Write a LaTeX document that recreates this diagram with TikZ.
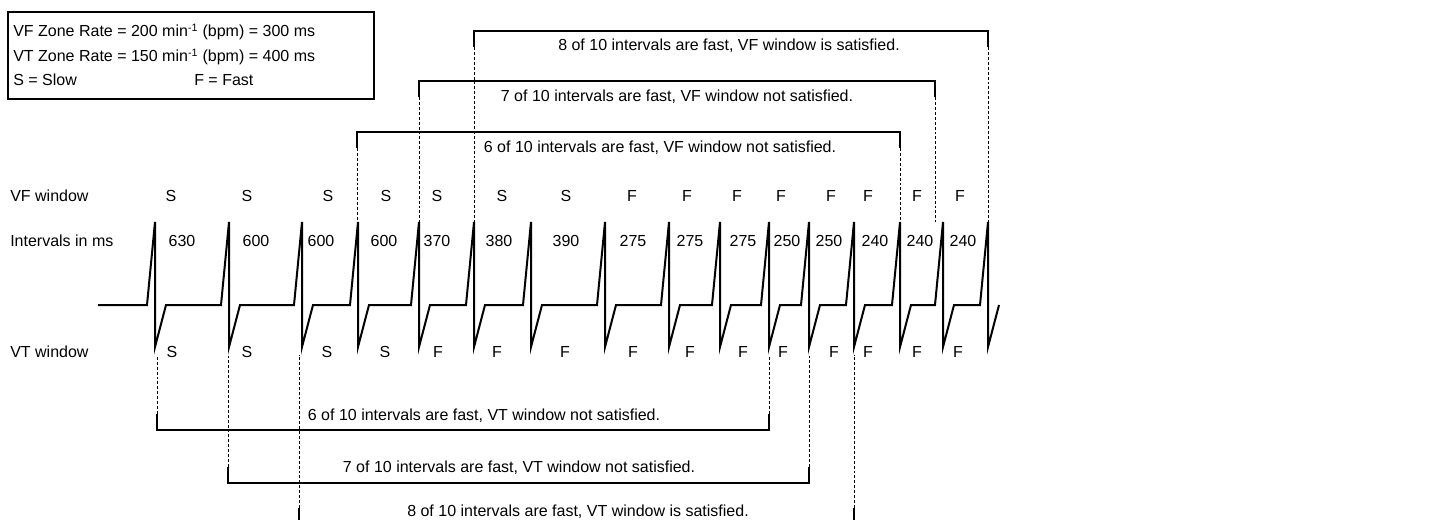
\documentclass[tikz,border=0pt]{standalone}
\usepackage{fontspec}
\setmainfont{Liberation Sans}
\usetikzlibrary{calc}

\begin{document}
\begin{tikzpicture}[
  x=0.75pt, y=-0.75pt,
  every node/.style={font=\fontsize{12}{14}\selectfont, inner sep=0pt},
  ecg/.style={line width=1.5pt, line join=miter},
  brace/.style={line width=0.9pt},
  guide/.style={line width=0.7pt, dash pattern=on 2.2pt off 1.5pt}
]
  \path[use as bounding box] (0,0) rectangle (1445,520);
  \clip (0,0) rectangle (1445,520);

  % legend
  \draw[line width=1.1pt] (8,12) rectangle (374,99);
  \node[anchor=base west] (rateVF) at (13,37) {VF Zone Rate = 200 min\textsuperscript{-1} (bpm) = 300 ms};
  \node[anchor=base west] (rateVT) at (13,62) {VT Zone Rate = 150 min\textsuperscript{-1} (bpm) = 400 ms};
  \node[anchor=base west] (slow) at (13,86) {S = Slow};
  \node[anchor=base west] (fast) at (194,86) {F = Fast};

  % row titles
  \node[anchor=base west] (vfrow) at (10,202) {VF window};
  \node[anchor=base west] (ivrow) at (10,246.5) {Intervals in ms};
  \node[anchor=base west] (vtrow) at (10,357) {VT window};

  % beats
  \foreach \p [count=\i] in {155,229,302,358,419,474,531,605,669,720,769,809,854,900,943,988} {
    \coordinate (top\i) at (\p,222);
    \coordinate (bot\i) at (\p,347);
  }
  \draw[ecg] (98,305)
    \foreach \p in {155,229,302,358,419,474,531,605,669,720,769,809,854,900,943,988} {
      -- (\p-8,305) -- (\p,222) -- (\p,347) -- (\p+11,305)
    };

  % interval labels
  \foreach \x/\v [count=\i] in {182/630,256/600,321/600,384/600,437/370,499/380,566/390,
      633/275,690/275,743/275,787/250,829/250,875/240,920/240,963/240}
    \node[anchor=base] (iv\i) at (\x,246.5) {\v};

  % VF classification
  \foreach \x/\c [count=\i] in {171/S,247/S,328/S,386/S,437/S,502/S,566/S,
      632/F,687/F,737/F,781/F,831/F,868/F,917/F,960/F}
    \node[anchor=base] (vf\i) at (\x,202) {\c};

  % VT classification
  \foreach \x/\c [count=\i] in {172/S,247/S,327/S,385/S,438/F,497/F,565/F,
      633/F,690/F,743/F,783/F,834/F,868/F,917/F,958/F}
    \node[anchor=base] (vt\i) at (\x,357) {\c};

  % VF windows (above)
  \foreach \xa/\xb/\lev/\a/\b in {357/900/132/4/14, 419/935/81/5/15, 474/988/31/6/16} {
    \coordinate (l) at (\xa,\lev);
    \coordinate (r) at (\xb,\lev);
    \draw[brace] ([yshift=-12pt]l) -- (l) -- (r) -- ([yshift=-12pt]r);
    \draw[guide] ([yshift=-12pt]l) -- (l |- top\a);
    \draw[guide] ([yshift=-12pt]r) -- (r |- top\b);
  }
  \node[anchor=base] (vfsix) at (660,153) {6 of 10 intervals are fast, VF window not satisfied.};
  \node[anchor=base] (vfseven) at (677,102) {7 of 10 intervals are fast, VF window not satisfied.};
  \node[anchor=base] (vfeight) at (729,50.5) {8 of 10 intervals are fast, VF window is satisfied.};

  % VT windows (below)
  \foreach \xa/\xb/\lev/\a/\b in {157/769/430/1/11, 228/809/483/2/12, 299/854/524/3/13} {
    \coordinate (l) at (\xa,\lev);
    \coordinate (r) at (\xb,\lev);
    \draw[brace] ([yshift=12pt]l) -- (l) -- (r) -- ([yshift=12pt]r);
    \draw[guide] ([yshift=12pt]l) -- ([yshift=-6pt]l |- bot\a);
    \draw[guide] ([yshift=12pt]r) -- ([yshift=-6pt]r |- bot\b);
  }
  \node[anchor=base] (vtsix) at (484,420) {6 of 10 intervals are fast, VT window not satisfied.};
  \node[anchor=base] (vtseven) at (519,472.5) {7 of 10 intervals are fast, VT window not satisfied.};
  \node[anchor=base] (vteight) at (578,516.5) {8 of 10 intervals are fast, VT window is satisfied.};
\end{tikzpicture}
\end{document}
